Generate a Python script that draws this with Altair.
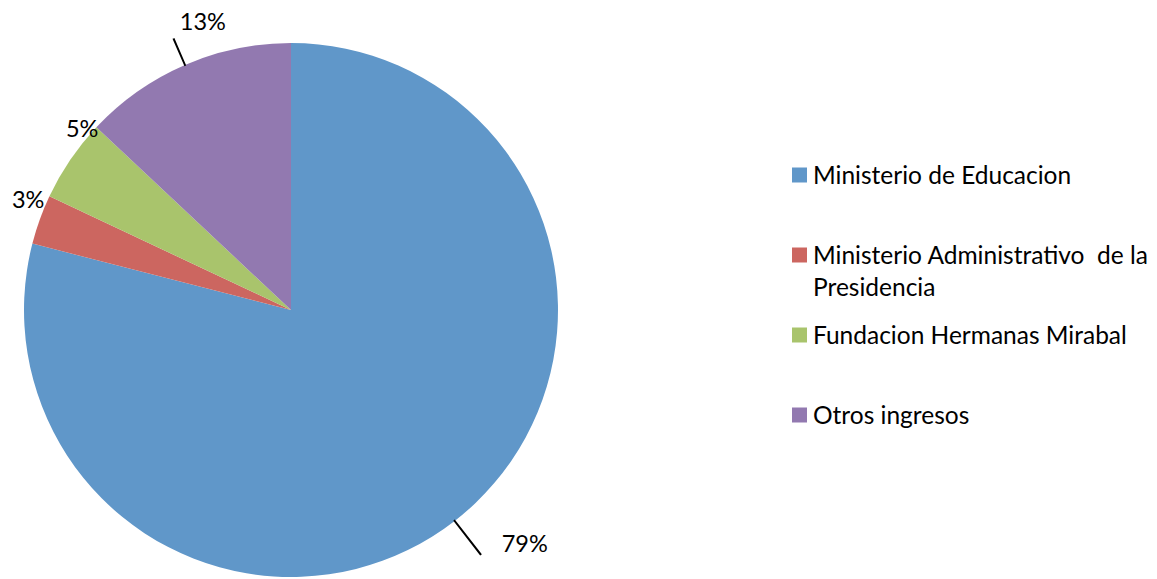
import altair as alt
import pandas as pd

categories = [
    "Ministerio de Educacion",
    "Ministerio Administrativo  de la Presidencia",
    "Fundacion Hermanas Mirabal",
    "Otros ingresos",
]
values = [79, 3, 5, 13]
labels = ["79%", "3%", "5%", "13%"]
colors = ["#6097C9", "#CC6660", "#A9C46C", "#9279B0"]

FONT = "Lato"
FS_LEG = 24.5
FS_LAB = 23.5

df = pd.DataFrame({"cat": categories, "value": values, "label": labels, "idx": list(range(len(categories)))})

CX, CY, R = 283, 302, 267

base = (
    alt.Chart(df)
    .transform_joinaggregate(total="sum(value)")
    .transform_window(cum="sum(value)", sort=[alt.SortField("idx")], frame=[None, 0])
    .transform_calculate(
        a1="datum.cum / datum.total * 2 * PI",
        a0="(datum.cum - datum.value) / datum.total * 2 * PI",
    )
    .transform_calculate(mid="(datum.a0 + datum.a1) / 2")
    .transform_calculate(mid1="datum.mid - 0.0035", mid2="datum.mid + 0.0035")
)

color = alt.Color("cat:N", scale=alt.Scale(domain=categories, range=colors), legend=None)

pie = base.mark_arc(radius=R, stroke=None).encode(
    theta=alt.Theta("a0:Q", scale=None, stack=None),
    theta2="a1:Q",
    color=color,
    x=alt.value(CX),
    y=alt.value(CY),
)


def leader(i, outer):
    return (
        base.transform_filter(alt.datum.idx == i)
        .mark_arc(radius=outer, radius2=R - 1, color="black")
        .encode(
            theta=alt.Theta("mid1:Q", scale=None, stack=None),
            theta2="mid2:Q",
            x=alt.value(CX),
            y=alt.value(CY),
        )
    )


def label(i, dx, dy):
    return (
        base.transform_filter(alt.datum.idx == i)
        .mark_text(radius=290, dx=dx, dy=dy, font=FONT, fontSize=FS_LAB, color="black",
                   align="center", baseline="middle")
        .encode(
            theta=alt.Theta("mid:Q", scale=None, stack=None),
            text="label:N",
            x=alt.value(CX),
            y=alt.value(CY),
        )
    )


ypos = alt.Y("cat:N", scale=alt.Scale(type="point", domain=categories, range=[167, 407], padding=0), axis=None)

legend_sq = alt.Chart(df).mark_square(size=225, opacity=1).encode(
    x=alt.value(791.5), y=ypos, color=color
)

legend_tx = (
    alt.Chart(df)
    .transform_calculate(
        txt="datum.cat == 'Ministerio Administrativo  de la Presidencia' ? "
            "['Ministerio Administrativo\u00a0 de la', 'Presidencia'] : datum.cat"
    )
    .mark_text(align="left", baseline="alphabetic", dy=8.5, lineHeight=32,
               font=FONT, fontSize=FS_LEG, color="black")
    .encode(x=alt.value(805), y=ypos, text="txt:N")
)

chart = (
    alt.layer(
        pie,
        leader(3, 296),
        leader(0, 310),
        label(0, 56, 6),
        label(1, 10, -11),
        label(2, 31, -17),
        label(3, 27, -21),
        legend_sq,
        legend_tx,
    )
    .properties(width=1141, height=569, padding=0, autosize=alt.AutoSizeParams(type="none"))
    .configure_view(stroke=None)
)

chart.save("out.html", embed_options={"renderer": "svg", "actions": False})
